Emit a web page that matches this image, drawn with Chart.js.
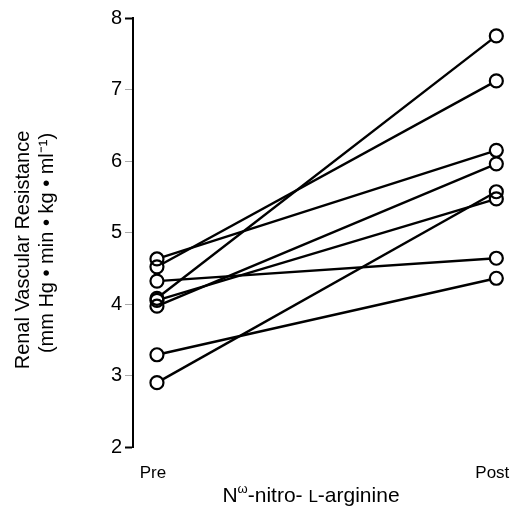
<!DOCTYPE html>
<html>
<head>
<meta charset="utf-8">
<script src="https://cdn.jsdelivr.net/npm/chart.js@4/dist/chart.umd.min.js"></script>
<style>
html,body{margin:0;padding:0;background:#fff;}
canvas{display:block;}
</style>
</head>
<body>
<canvas id="c" width="511" height="512" style="width:511px;height:512px"></canvas>
<script>
const categories = ["Pre", "Post"];
const preValues  = [4.52, 4.63, 4.08, 4.32, 3.97, 4.05, 3.29, 2.90];
const postValues = [7.12, 6.15, 7.75, 4.64, 5.96, 5.47, 4.36, 5.57];
const yTicks = [2, 3, 4, 5, 6, 7, 8];

const FONT = "'Liberation Sans', Arial, Helvetica, sans-serif";

const lineSets = preValues.map((p, i) => ({
  data: [{x: 0, y: p}, {x: 1, y: postValues[i]}],
  showLine: true,
  borderColor: '#000',
  borderWidth: 2.4,
  pointRadius: 0,
  clip: false,
  order: 3
}));
const allPts = [];
preValues.forEach(v => allPts.push({x: 0, y: v}));
postValues.forEach(v => allPts.push({x: 1, y: v}));

const maskSet = {
  data: allPts, showLine: false, pointRadius: 6.5, clip: false,
  pointBackgroundColor: '#fff', pointBorderColor: '#fff', pointBorderWidth: 0, order: 2
};
const outlineSet = {
  data: allPts, showLine: false, pointRadius: 6.5, clip: false,
  pointBackgroundColor: 'rgba(0,0,0,0)', pointBorderColor: '#000', pointBorderWidth: 2.2, order: 1
};

const titlesPlugin = {
  id: 'titles',
  afterDraw(chart) {
    const ctx = chart.ctx;
    ctx.save();
    ctx.fillStyle = '#000';
    // Y title (two lines, rotated)
    ctx.save();
    ctx.translate(23, 250);
    ctx.rotate(-Math.PI / 2);
    ctx.textAlign = 'center';
    ctx.textBaseline = 'middle';
    ctx.font = '20px ' + FONT;
    ctx.fillText('Renal Vascular Resistance', 0, 0);
    ctx.fillText('(mm Hg \u2022 min \u2022 kg \u2022 ml\u207B\u00B9)', 7, 24);
    ctx.restore();
    // X title with superscript omega
    const parts = [
      {t: 'N', f: '21px ' + FONT, dy: 0},
      {t: '\u03C9', f: '13px ' + FONT, dy: -9},
      {t: '-nitro- ', f: '21px ' + FONT, dy: 0},
      {t: 'L', f: '17px ' + FONT, dy: 0},
      {t: '-arginine', f: '21px ' + FONT, dy: 0}
    ];
    let total = 0;
    parts.forEach(p => { ctx.font = p.f; p.w = ctx.measureText(p.t).width; total += p.w; });
    let x = 311 - total / 2;
    const base = 502;
    ctx.textAlign = 'left';
    ctx.textBaseline = 'alphabetic';
    parts.forEach(p => { ctx.font = p.f; ctx.fillText(p.t, x, base + p.dy); x += p.w; });
    ctx.restore();
  }
};

new Chart(document.getElementById('c'), {
  type: 'scatter',
  data: { datasets: [...lineSets, maskSet, outlineSet] },
  options: {
    responsive: false,
    devicePixelRatio: 1,
    animation: false,
    events: [],
    layout: { padding: { top: 18, right: 8, left: 0, bottom: 0 } },
    plugins: { legend: { display: false }, tooltip: { enabled: false } },
    scales: {
      x: {
        type: 'linear',
        min: -0.0706,
        max: 1.0176,
        afterBuildTicks: s => { s.ticks = categories.map((c, i) => ({ value: i })); },
        afterFit: s => { s.height = 65; s.paddingLeft = 0; s.paddingRight = 0; },
        border: { display: false },
        grid: { display: false },
        ticks: {
          padding: 8,
          labelOffset: -4,
          color: '#000',
          font: { family: FONT, size: 17 },
          callback: v => categories[v]
        }
      },
      y: {
        min: 2,
        max: 8,
        afterBuildTicks: s => { s.ticks = yTicks.map(v => ({ value: v })); },
        afterFit: s => { s.width = 133; },
        border: { display: true, color: '#000', width: 2 },
        grid: {
          drawOnChartArea: false,
          drawTicks: true,
          tickLength: 8,
          tickColor: c => (c.tick && (c.tick.value === 2 || c.tick.value === 8)) ? '#000' : '#aaa',
          tickWidth: c => (c.tick && (c.tick.value === 2 || c.tick.value === 8)) ? 2 : 1
        },
        ticks: {
          padding: 3,
          color: '#000',
          font: { family: FONT, size: 20 },
          callback: v => String(v)
        }
      }
    }
  },
  plugins: [titlesPlugin]
});
</script>
</body>
</html>
